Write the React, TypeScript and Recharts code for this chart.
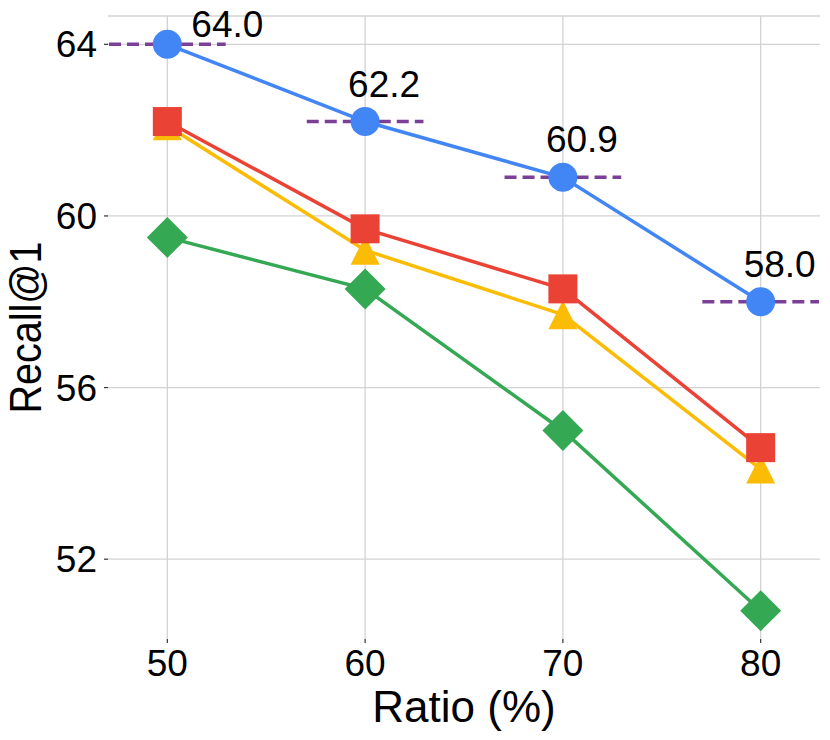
import React from 'react';
import { LineChart, Line, XAxis, YAxis, CartesianGrid, ReferenceLine } from 'recharts';

const ratios = [50, 60, 70, 80];
const oursValues = [64.0, 62.2, 60.9, 58.0];
const redValues = [62.2, 59.7, 58.3, 54.6];
const yellowValues = [62.1, 59.2, 57.7, 54.1];
const greenValues = [59.5, 58.3, 55.0, 50.8];
const baselineValues = [64.0, 62.2, 60.9, 58.0];
const xTicks = [50, 60, 70, 80];
const yTicks = [52, 56, 60, 64];
const xDomain = [47, 83];
const yDomain = [50.14, 64.66];

const data = ratios.map((r, i) => ({
  ratio: r,
  blue: oursValues[i],
  red: redValues[i],
  yellow: yellowValues[i],
  green: greenValues[i],
}));

const FONT = '"Liberation Sans", Arial, Helvetica, sans-serif';
const BLUE = '#4285F4';
const RED = '#EA4335';
const YELLOW = '#FBBC05';
const GREEN = '#34A853';
const PURPLE = '#7B3F98';
const GRID = '#d3d3d3';

const CircleDot = (p: any) => (
  <circle key={`c-${p.index}`} cx={p.cx} cy={p.cy} r={14.5} fill={BLUE} />
);
const SquareDot = (p: any) => (
  <rect key={`s-${p.index}`} x={p.cx - 14.5} y={p.cy - 14.5} width={29} height={29} fill={RED} />
);
const TriangleDot = (p: any) => (
  <path
    key={`t-${p.index}`}
    d={`M${p.cx},${p.cy - 14.5} L${p.cx + 14.5},${p.cy + 14.5} L${p.cx - 14.5},${p.cy + 14.5} Z`}
    fill={YELLOW}
  />
);
const DiamondDot = (p: any) => (
  <path
    key={`d-${p.index}`}
    d={`M${p.cx},${p.cy - 20.5} L${p.cx + 20.5},${p.cy} L${p.cx},${p.cy + 20.5} L${p.cx - 20.5},${p.cy} Z`}
    fill={GREEN}
  />
);

const ValueLabel = (p: any) => {
  const { x, y, value, index } = p;
  const first = index === 0;
  return (
    <text
      x={x + (first ? 24 : -17)}
      y={y + (first ? -7 : -25)}
      fontSize={37}
      fontFamily={FONT}
      fill="#000"
      textAnchor="start"
    >
      {Number(value).toFixed(1)}
    </text>
  );
};

export default function App() {
  return (
    <div style={{ position: 'absolute', left: 0, top: 0, background: '#fff' }}>
      <LineChart
        width={830}
        height={740}
        data={data}
        margin={{ top: 16, right: 10, left: 0, bottom: 0 }}
      >
        <CartesianGrid stroke={GRID} strokeWidth={1.3} syncWithTicks={true} />
        <ReferenceLine y={yDomain[1]} stroke={GRID} strokeWidth={1.3} />
        <XAxis
          dataKey="ratio"
          type="number"
          domain={xDomain}
          ticks={xTicks}
          height={101}
          axisLine={false}
          tickSize={4}
          tickMargin={7}
          tickLine={{ stroke: '#333', strokeWidth: 1.2 }}
          tick={{ fontSize: 37, fill: '#000', fontFamily: FONT }}
          label={{
            content: (props: any) => {
              const vb = props.viewBox;
              return (
                <text
                  x={vb.x + vb.width / 2}
                  y={722}
                  textAnchor="middle"
                  fontSize={44}
                  fontFamily={FONT}
                  fill="#000"
                >
                  Ratio (%)
                </text>
              );
            },
          }}
        />
        <YAxis
          type="number"
          domain={yDomain}
          ticks={yTicks}
          width={108}
          axisLine={false}
          tickSize={4}
          tickMargin={7}
          tickLine={{ stroke: '#333', strokeWidth: 1.2 }}
          tick={{ fontSize: 37, fill: '#000', fontFamily: FONT }}
          label={{
            content: (props: any) => {
              const vb = props.viewBox;
              const cx = 41;
              const cy = vb.y + vb.height / 2;
              return (
                <text
                  x={cx}
                  y={cy}
                  transform={`rotate(-90 ${cx} ${cy})`}
                  textAnchor="middle"
                  fontSize={44}
                  fontFamily={FONT}
                  fill="#000"
                  textLength={172}
                  lengthAdjust="spacingAndGlyphs"
                >
                  Recall@1
                </text>
              );
            },
          }}
        />
        <Line
          dataKey="green"
          stroke={GREEN}
          strokeWidth={3.5}
          dot={DiamondDot}
          activeDot={false}
          isAnimationActive={false}
        />
        <Line
          dataKey="yellow"
          stroke={YELLOW}
          strokeWidth={3.5}
          dot={TriangleDot}
          activeDot={false}
          isAnimationActive={false}
        />
        <Line
          dataKey="red"
          stroke={RED}
          strokeWidth={3.5}
          dot={SquareDot}
          activeDot={false}
          isAnimationActive={false}
        />
        <Line
          dataKey="blue"
          stroke={BLUE}
          strokeWidth={3.5}
          dot={CircleDot}
          activeDot={false}
          label={ValueLabel}
          isAnimationActive={false}
        />
        {baselineValues.map((v, i) => (
          <ReferenceLine
            key={`b-${i}`}
            segment={[
              { x: ratios[i] - 2.95, y: v },
              { x: ratios[i] + 2.95, y: v },
            ]}
            stroke={PURPLE}
            strokeWidth={3.5}
            strokeDasharray="12 6"
          />
        ))}
      </LineChart>
    </div>
  );
}
